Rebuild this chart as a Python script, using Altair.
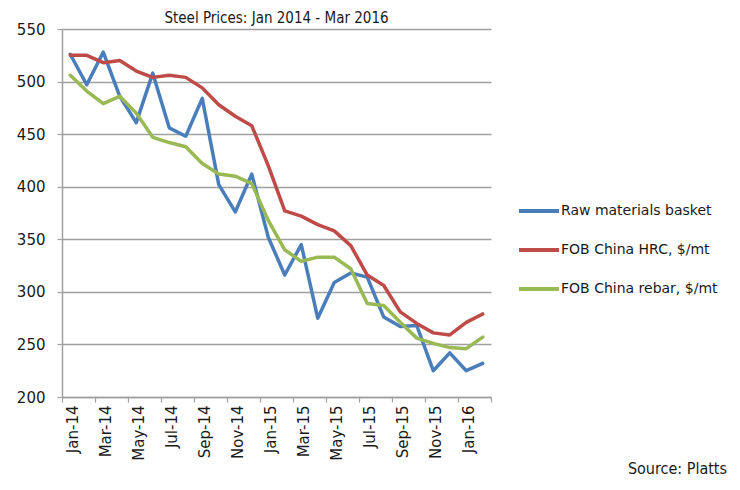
import altair as alt
import pandas as pd

months = ["Jan-14", "Feb-14", "Mar-14", "Apr-14", "May-14", "Jun-14", "Jul-14", "Aug-14",
          "Sep-14", "Oct-14", "Nov-14", "Dec-14", "Jan-15", "Feb-15", "Mar-15", "Apr-15",
          "May-15", "Jun-15", "Jul-15", "Aug-15", "Sep-15", "Oct-15", "Nov-15", "Dec-15",
          "Jan-16", "Feb-16"]
raw = [526, 497, 528, 486, 461, 508, 456, 448, 484, 402, 376, 412, 352, 316, 345, 275,
       309, 318, 314, 276, 267, 268, 225, 242, 225, 232]
hrc = [525, 525, 518, 520, 510, 504, 506, 504, 494, 478, 467, 458, 420, 377, 372, 364,
       358, 344, 316, 306, 281, 270, 261, 259, 271, 279]
rebar = [506, 491, 479, 486, 470, 447, 442, 438, 422, 412, 410, 403, 368, 340, 329, 333,
         333, 322, 289, 287, 271, 256, 251, 247, 246, 257]

series_names = ["Raw materials basket", "FOB China HRC, $/mt", "FOB China rebar, $/mt"]
colors = ["#4A7EBB", "#BE4B48", "#98B954"]
tick_labels = months[::2]
y_ticks = [200, 250, 300, 350, 400, 450, 500, 550]
title_text = "Steel Prices: Jan 2014 - Mar 2016"
source_text = "Source: Platts"

rows = []
for name, vals in zip(series_names, [raw, hrc, rebar]):
    for i, (m, v) in enumerate(zip(months, vals)):
        rows.append({"series": name, "month": m, "i": i, "value": v})
df = pd.DataFrame(rows)

n = len(months)
label_js = "[" + ",".join("'" + l + "'" for l in tick_labels) + "]"
label_expr = "datum.value < " + str(n) + " ? " + label_js + "[datum.value / 2] : ''"

axis_color = "#a0a0a0"
narrow = "DejaVu Sans Condensed"

lines = alt.Chart(df).transform_calculate(pos="datum.i + 0.5").mark_line(
    strokeWidth=3.5, strokeJoin="round", strokeCap="round"
).encode(
    x=alt.X("pos:Q",
            scale=alt.Scale(domain=[0, n], nice=False, zero=False),
            axis=alt.Axis(values=list(range(0, n + 1, 2)), labelExpr=label_expr,
                          labelAngle=270, labelAlign="right", labelBaseline="middle",
                          labelOffset=10, labelPadding=3, tickSize=5, grid=False,
                          title=None, labelFont="DejaVu Sans", labelFontSize=15,
                          labelColor="#1a1a1a", domainColor=axis_color, tickColor=axis_color,
                          domainWidth=1.5, tickWidth=1.2, labelOverlap=False)),
    y=alt.Y("value:Q",
            scale=alt.Scale(domain=[200, 550], nice=False, zero=False),
            axis=alt.Axis(values=y_ticks, title=None, tickSize=5, labelPadding=12,
                          labelFont="DejaVu Sans", labelFontSize=15, labelColor="#1a1a1a",
                          domainColor=axis_color, tickColor=axis_color, domainWidth=1.5,
                          tickWidth=1.2, gridColor=axis_color, gridWidth=1.5)),
    color=alt.Color("series:N",
                    scale=alt.Scale(domain=series_names, range=colors),
                    legend=alt.Legend(orient="none", legendX=455, legendY=160,
                                      symbolType="stroke", symbolSize=1600,
                                      symbolStrokeWidth=4, labelFontSize=14,
                                      labelFont="DejaVu Sans", labelColor="#1a1a1a",
                                      labelOffset=0, rowPadding=9, title=None,
                                      padding=0, labelLimit=300)),
)

source = alt.Chart(pd.DataFrame({"t": [source_text]})).mark_text(
    align="right", baseline="alphabetic", font=narrow, fontSize=16, color="#1a1a1a"
).encode(x=alt.value(665), y=alt.value(445), text="t:N")

chart = alt.layer(lines, source).properties(
    width=429, height=368,
    padding={"left": 54, "top": 21, "right": 241, "bottom": 83},
    autosize=alt.AutoSizeParams(type="none"),
    title=alt.TitleParams(title_text, font=narrow, fontSize=15, fontWeight="normal",
                          color="#1a1a1a", anchor="middle", frame="group", offset=-4),
    background="white",
).configure_view(strokeWidth=0)

chart.save("out.html", embed_options={"renderer": "svg", "actions": False})
